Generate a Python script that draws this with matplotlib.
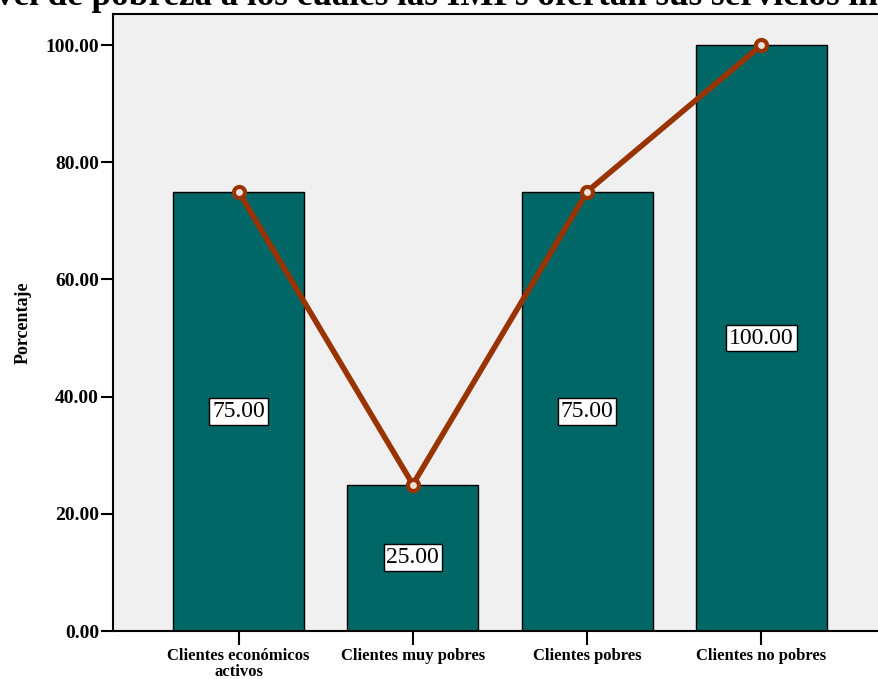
import matplotlib
matplotlib.use("Agg")
import matplotlib.pyplot as plt
import numpy as np

categories = ["Clientes económicos\nactivos", "Clientes muy pobres",
              "Clientes pobres", "Clientes no pobres"]
porcentaje = [75.0, 25.0, 75.0, 100.0]
titulo = "9: Nivel de pobreza a los cuales las IMFs ofertan sus servicios in"

plt.rcParams['font.family'] = ['Liberation Serif', 'DejaVu Serif']

fig = plt.figure(figsize=(8.79, 6.79), dpi=100)
ax = fig.add_axes([113 / 879, 48 / 679, 774 / 879, 617 / 679])
ax.set_facecolor('#f0f0f0')

x = np.arange(len(categories))
ax.bar(x, porcentaje, width=0.75, color='#006666', edgecolor='black', linewidth=1, zorder=2)
ax.plot(x, porcentaje, color='#993300', linewidth=4, marker='o', markersize=8,
        markerfacecolor='#f0e0d8', markeredgecolor='#993300', markeredgewidth=3, zorder=3)

# value labels in the middle of each bar
for xi, v in zip(x, porcentaje):
    ax.text(xi, v / 2, "%.2f" % v, ha='center', va='center', fontsize=17, zorder=4,
            bbox=dict(boxstyle='square,pad=0.12', facecolor='white', edgecolor='black', linewidth=1))

ax.set_xlim(-0.72, 3.72)
ax.set_ylim(0, 105.3)
ax.set_yticks(np.arange(0, 101, 20))
ax.set_yticklabels(["%.2f" % t for t in np.arange(0, 101, 20)], fontweight='bold', fontsize=14)
ax.set_xticks(x)
ax.set_xticklabels(categories, fontweight='bold', fontsize=12, linespacing=1.0)
ax.tick_params(axis='y', direction='out', length=9, width=1.5, pad=1)
ax.tick_params(axis='x', direction='out', length=10, width=1.5, pad=2)
for s in ax.spines.values():
    s.set_linewidth(1.5)
ax.set_ylabel("Porcentaje", fontweight='bold', fontsize=13, labelpad=10)

fig.text(-0.0876, 0.9926, titulo, ha='left', va='baseline', fontsize=25.3, fontweight='bold')

fig.savefig("out.png", dpi=100)
